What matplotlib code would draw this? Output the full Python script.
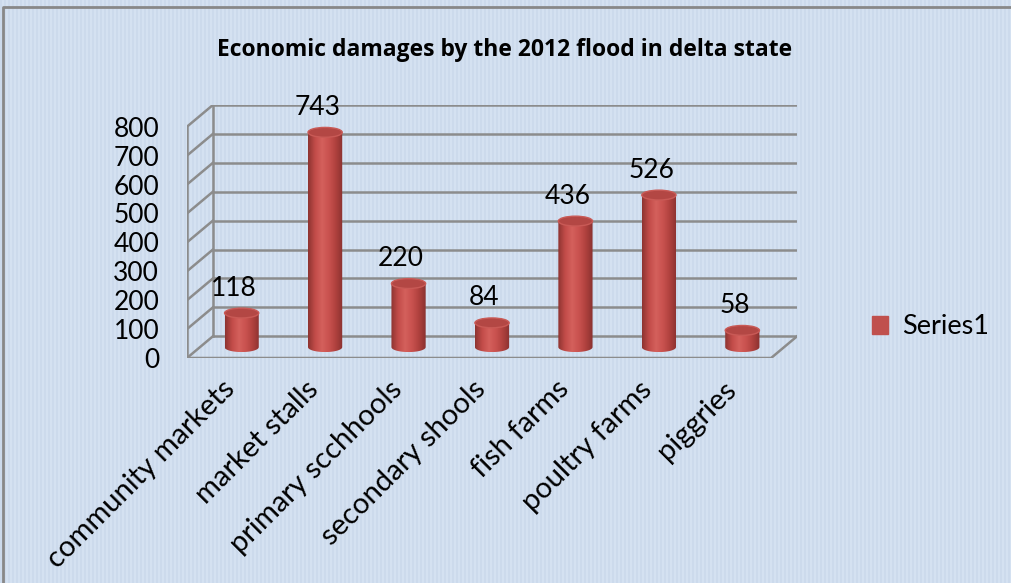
import numpy as np
import matplotlib

matplotlib.use("Agg")
import matplotlib.pyplot as plt
from matplotlib.colors import LinearSegmentedColormap
from matplotlib.patches import Ellipse, PathPatch, Patch
from matplotlib.path import Path
from matplotlib.transforms import ScaledTranslation

plt.rcParams["font.family"] = ["Lato", "DejaVu Sans"]

categories = ["community markets", "market stalls", "primary scchhools",
              "secondary shools", "fish farms", "poultry farms", "piggries"]
values = [118, 743, 220, 84, 436, 526, 58]
y_ticks = [0, 100, 200, 300, 400, 500, 600, 700, 800]
series_name = "Series1"
title = "Economic damages by the 2012 flood in delta state"

W, H = 1011, 583
DX, DY = 0.31, 75          # depth offset of the back wall (data units)
BAR_W, CAP_H = 0.41, 34    # cylinder width / ellipse height (data units)
GRID = "#8c8c8c"
RED = "#c0504d"

fig = plt.figure(figsize=(W / 100, H / 100), dpi=100)

# striped light-blue background + frame
bg = fig.add_axes([0, 0, 1, 1])
cols = np.array([[204, 218, 236], [212, 225, 241]]) / 255
stripe = cols[(np.arange(W) // 2) % 2][None, :, :]
bg.imshow(stripe, aspect="auto", extent=[0, 1, 0, 1])
bg.plot([3 / W, 3 / W, 1.01], [-0.01, 1 - 7 / H, 1 - 7 / H], color="#888888", lw=2)
bg.set_xlim(0, 1)
bg.set_ylim(0, 1)
bg.axis("off")

ax = fig.add_axes([187 / W, (H - 358) / H, 610 / W, 253 / H])
ax.patch.set_alpha(0)
for s in ax.spines.values():
    s.set_visible(False)

n = len(categories)
x0, x1 = -0.5, n - 0.5
top_v = y_ticks[-1]

# walls and gridlines
for v in y_ticks:
    ax.plot([x0 + DX, x1 + DX], [v + DY, v + DY], color=GRID, lw=1.8, zorder=1)
    ax.plot([x0, x0 + DX], [v, v + DY], color=GRID, lw=1.8, zorder=1)
ax.plot([x0, x0], [0, top_v], color=GRID, lw=1.8, zorder=1)
ax.plot([x0 + DX, x0 + DX], [DY, top_v + DY], color=GRID, lw=1.8, zorder=1)
ax.plot([x0, x1, x1 + DX], [0, 0, DY], color=GRID, lw=1.8, zorder=1)

shade = LinearSegmentedColormap.from_list(
    "cyl", ["#8e3431", "#c24c49", "#d4605c", "#c9524f", "#b0413e", "#8a3230"])
grad = np.linspace(0, 1, 64)[None, :]

for i, v in enumerate(values):
    cx = i + DX / 2
    base = DY / 2
    top = v + DY / 2
    l, r = cx - BAR_W / 2, cx + BAR_W / 2
    t = np.linspace(np.pi, 2 * np.pi, 30)
    arc = np.column_stack([cx + BAR_W / 2 * np.cos(t), base + CAP_H / 2 * np.sin(t)])
    verts = np.vstack([[[l, top]], arc, [[r, top]], [[l, top]]])
    codes = [Path.MOVETO] + [Path.LINETO] * (len(verts) - 2) + [Path.CLOSEPOLY]
    body = PathPatch(Path(verts, codes), facecolor="none", edgecolor="none")
    ax.add_patch(body)
    im = ax.imshow(grad, cmap=shade, aspect="auto",
                   extent=[l, r, base - CAP_H / 2, top], zorder=3)
    im.set_clip_path(body)
    ax.add_patch(Ellipse((cx, top), BAR_W, CAP_H, facecolor="#b34744",
                         edgecolor="#c95a56", lw=1, zorder=4))
    ax.annotate(str(v), (i + DX * 0.2, top), xytext=(0, 18),
                textcoords="offset points", ha="center", va="center",
                fontsize=19, zorder=5)

ax.set_xlim(x0, x1 + DX)
ax.set_ylim(0, top_v + DY)
ax.set_yticks(y_ticks)
ax.set_yticklabels([str(v) for v in y_ticks], fontsize=19)
ax.set_xticks(range(n))
ax.set_xticklabels(categories, fontsize=21, rotation=45, ha="right",
                   rotation_mode="anchor")
ax.tick_params(axis="y", length=0, pad=20)
ax.tick_params(axis="x", length=0, pad=13)
shift = ScaledTranslation(-0.07, 0, fig.dpi_scale_trans)
for lbl in ax.get_xticklabels():
    lbl.set_transform(lbl.get_transform() + shift)

fig.text(505 / W, 1 - 50 / H, title, ha="center", va="center",
         fontsize=16.5, fontweight="bold", family=["Open Sans", "DejaVu Sans"])

fig.legend(handles=[Patch(color=RED, label=series_name)], loc="center left",
           bbox_to_anchor=(872 / W, 1 - 327 / H), frameon=False, fontsize=19.5,
           handlelength=0.6, handleheight=0.6, handletextpad=0.5,
           borderaxespad=0, borderpad=0)

fig.savefig("out.png", dpi=100)
